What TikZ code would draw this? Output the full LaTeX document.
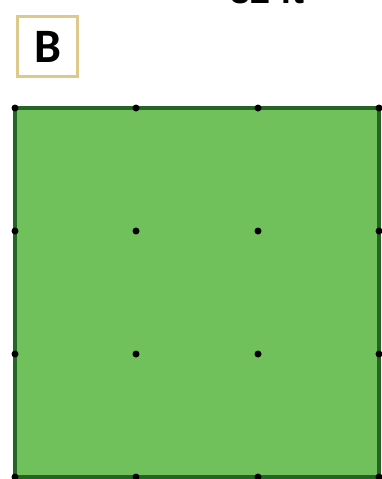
\documentclass[tikz,border=0pt]{standalone}
\usepackage{fontspec}
\setmainfont{Liberation Sans}
\newfontfamily\labelfont{Carlito}
\definecolor{fieldgreen}{RGB}{112,192,92}
\definecolor{edgegreen}{RGB}{36,100,36}
\definecolor{tanframe}{RGB}{222,200,140}
\tikzset{
  gridpt/.style={circle,fill=black,inner sep=0pt,minimum size=7pt},
  labelbox/.style={draw=tanframe,line width=2.5pt,minimum size=60pt,inner sep=0pt,font=\labelfont\bfseries\fontsize{48}{48}\selectfont}
}
\begin{document}
\begin{tikzpicture}[x=1pt,y=-1pt]
\useasboundingbox (0,0) rectangle (382,479);
\clip (0,0) rectangle (382,479);
\fill[white] (0,0) rectangle (382,479);
\node[anchor=base west,font=\bfseries\fontsize{36}{36}\selectfont,inner sep=0pt] (dim) at (230,3) {32 ft};
\node[labelbox] (lbl) at (47.5,46.5) {B};
\draw[edgegreen,fill=fieldgreen,line width=3.5pt] (15,108) rectangle (379,477);
\foreach \i/\x in {0/15,1/136,2/258,3/379}{
  \foreach \j/\y in {0/108,1/231,2/354,3/477}{
    \node[gridpt] (p\i\j) at (\x,\y) {};
  }
}
\end{tikzpicture}
\end{document}
